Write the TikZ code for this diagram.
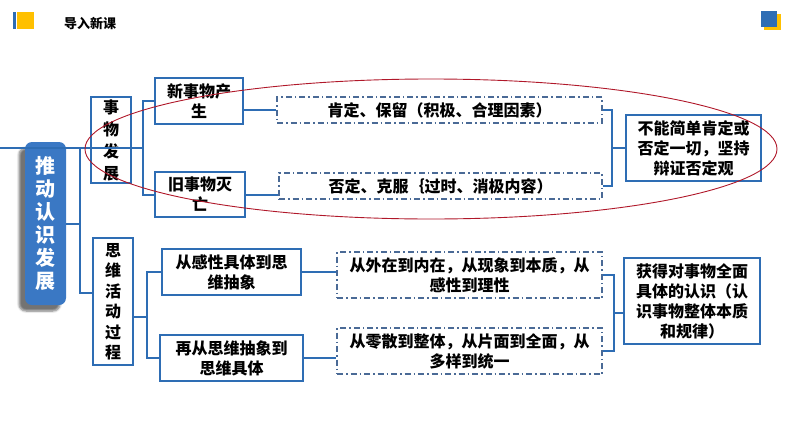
\documentclass[tikz,border=0pt]{standalone}
\usepackage{fontspec}
\setmainfont{Noto Sans CJK SC}
\usepackage{pgf,tikz}
\usetikzlibrary{shadows.blur}
\definecolor{azul}{HTML}{2E6DB4}
\definecolor{azulfuerte}{HTML}{3A78C4}
\definecolor{grisazul}{HTML}{4A6A96}
\definecolor{amarillo}{HTML}{FFC000}
\definecolor{rojo}{HTML}{B0182A}
\tikzstyle{caja} = [draw=azul, line width=1.6pt, rectangle, align=center, inner sep=0pt, font=\bfseries\fontsize{16}{20}\selectfont]
\tikzstyle{cajapunteada} = [caja, draw=grisazul, line width=1.3pt, dash pattern=on 6pt off 3pt on 1.5pt off 3pt]
\tikzstyle{principal} = [fill=azulfuerte, rounded corners=7pt, minimum width=41, minimum height=163, text=white, align=center, inner sep=0pt, font=\bfseries\fontsize{20}{23}\selectfont, blur shadow={shadow xshift=-6pt, shadow yshift=-6pt, shadow blur steps=6, shadow opacity=55}]
\tikzstyle{llave} = [draw=azul, line width=2pt]
\tikzstyle{encabezado} = [font=\bfseries\fontsize{13}{15}\selectfont]
\begin{document}
\begin{tikzpicture}[x=1pt,y=-1pt]
	\useasboundingbox (0,0) rectangle (794,447);
	\fill[azul] (13,12) rectangle (16,29);
	\fill[amarillo] (17,12) rectangle (34,29);
	\fill[amarillo] (764,14) rectangle (781,30);
	\fill[azul] (761,11) rectangle (777,27);
	\node[encabezado] (titulo) at (90,24) {导入新课};
	\node[principal] (tuidong) at (45.5,223.5) {推\\动\\认\\识\\发\\展};
	\node[caja, minimum width=40, minimum height=86, font=\bfseries\fontsize{16}{22}\selectfont] (shiwu) at (111,140) {事\\物\\发\\展};
	\node[caja, minimum width=40, minimum height=127, font=\bfseries\fontsize{16}{20.5}\selectfont] (siwei) at (113,301.5) {思\\维\\活\\动\\过\\程};
	\node[caja, minimum width=88, minimum height=46] (xin) at (199,101) {新事物产\\生};
	\node[caja, minimum width=90, minimum height=45] (jiu) at (200,194.5) {旧事物灭\\亡};
	\node[cajapunteada, minimum width=325, minimum height=26] (kending) at (439.5,110) {肯定、保留（积极、合理因素）};
	\node[cajapunteada, minimum width=323, minimum height=26] (fouding) at (440.5,186) {否定、克服｛过时、消极内容）};
	\node[caja, minimum width=135, minimum height=66] (jielun1) at (693.5,148) {不能简单肯定或\\否定一切，坚持\\辩证否定观};
	\node[caja, minimum width=139, minimum height=46] (ganxing) at (231.5,272) {从感性具体到思\\维抽象};
	\node[caja, minimum width=143, minimum height=46] (zaicong) at (231.5,358) {再从思维抽象到\\思维具体};
	\node[cajapunteada, minimum width=265, minimum height=46] (waizai) at (469.5,275) {从外在到内在，从现象到本质，从\\感性到理性};
	\node[cajapunteada, minimum width=265, minimum height=46] (lingsan) at (469.5,351) {从零散到整体，从片面到全面，从\\多样到统一};
	\node[caja, minimum width=136, minimum height=86] (jielun2) at (692,301) {获得对事物全面\\具体的认识（认\\识事物整体本质\\和规律）};
	\coordinate (l0) at (0,148);
	\coordinate (b0a) at (80,148);
	\coordinate (b0b) at (80,293);
	\coordinate (b1) at (143,148);
	\coordinate (b2) at (147,317);
	\coordinate (r1) at (612,148);
	\coordinate (r2) at (614,313);
	\draw[llave] (l0) -- (b1);
	\draw[llave] (b0a) -- (b0b) -- (b0b -| siwei.west);
	\draw[llave] (tuidong.east) -- (tuidong.east -| b0a);
	\draw[llave] (xin.west) -| (b1) |- (jiu.west);
	\draw[llave] (siwei.east |- b2) -- (b2);
	\draw[llave] (ganxing.west) -| (b2) |- (zaicong.west);
	\draw[llave] (xin.east |- kending.west) -- (kending.west);
	\draw[llave] (jiu.east) -- (jiu.east -| fouding.west);
	\draw[llave] (ganxing.east) -- (ganxing.east -| waizai.west);
	\draw[llave] (zaicong.east) -- (zaicong.east -| lingsan.west);
	\draw[llave] (kending.east) -| (r1) -- (jielun1.west);
	\draw[llave] (fouding.east) -| (r1);
	\draw[llave] (waizai.east) -| (r2) -- (r2 -| jielun2.west);
	\draw[llave] (lingsan.east) -| (r2);
	\draw[rojo, line width=0.9pt] (431,149) ellipse [x radius=346, y radius=70];
\end{tikzpicture}
\end{document}
